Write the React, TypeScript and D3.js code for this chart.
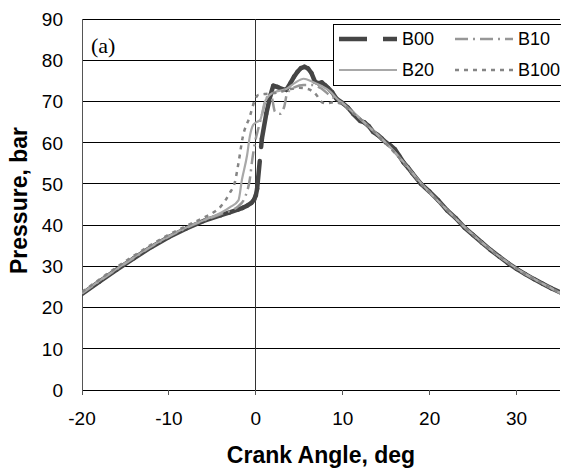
import React from "react";
import * as d3 from "d3";

// ---- data ----
const xTicks = [-20, -10, 0, 10, 20, 30];
const yTicks = [0, 10, 20, 30, 40, 50, 60, 70, 80, 90];

const b00Angle = [-20, -18, -16, -14, -12, -10, -8, -6, -4, -3, -2, -1.5, -1, -0.5, -0.2, 0, 0.15, 0.7, 1.2, 1.7, 2.0, 2.5, 3.0, 3.5, 4.0, 4.4, 4.8, 5.2, 5.6, 6.0, 6.4, 6.8, 7.2, 7.6, 8.0, 8.3, 8.8, 9.3, 10, 10.6, 11.2, 12, 12.5, 13, 13.5, 14, 14.5, 15, 15.5, 16, 16.5, 17, 17.5, 18, 19, 20, 21, 22, 23, 24, 25, 26, 27, 28, 29, 30, 31, 32, 33, 34, 35];
const b00Pressure = [23.3, 26.3, 29.2, 32.0, 34.7, 37.1, 39.2, 41.0, 42.4, 43.1, 43.8, 44.2, 44.7, 45.4, 46.2, 47.2, 48.8, 61.0, 67.0, 71.6, 73.8, 73.5, 73.0, 72.8, 74.5, 76.0, 77.2, 78.1, 78.4, 78.0, 76.9, 74.8, 74.4, 74.6, 73.9, 73.3, 72.2, 70.6, 69.6, 68.5, 67.0, 65.3, 64.9, 64.0, 62.6, 61.9, 61.0, 60.0, 59.3, 58.4, 56.8, 55.2, 54.0, 52.6, 50.0, 48.1, 46.0, 43.6, 41.7, 39.4, 37.6, 35.8, 34.0, 32.4, 30.8, 29.4, 28.1, 26.9, 25.8, 24.7, 23.7];

const b10Angle = [-20, -18, -16, -14, -12, -10, -8, -6, -4, -2, -1.2, -0.7, -0.4, -0.1, 0.3, 0.8, 1.3, 1.8, 2.2, 2.8, 3.3, 3.6, 4.5, 5.5, 6.5, 7.5, 8.5, 9.5, 10, 11, 12, 13, 14, 15, 16, 17, 18, 19, 20, 21, 22, 23, 24, 25, 26, 27, 28, 29, 30, 31, 32, 33, 34, 35];
const b10Pressure = [23.4, 26.4, 29.3, 32.1, 34.8, 37.2, 39.3, 41.1, 42.7, 44.6, 47.0, 51.0, 56.0, 60.0, 63.5, 67.5, 71.0, 71.0, 67.5, 67.0, 69.0, 72.0, 73.5, 74.0, 74.0, 73.2, 71.5, 70.2, 69.5, 67.6, 65.8, 63.8, 61.9, 59.8, 57.6, 55.2, 52.6, 50.1, 47.9, 45.8, 43.7, 41.6, 39.5, 37.6, 35.8, 34.0, 32.4, 30.9, 29.4, 28.1, 26.9, 25.8, 24.7, 23.6];

const b20Angle = [-20, -18, -16, -14, -12, -10, -8, -6, -4, -3, -2, -1.6, -1.0, -0.7, -0.3, 0.1, 0.5, 1.0, 1.6, 2.5, 3.5, 4.5, 5.5, 6.5, 7.5, 8.5, 9.5, 10, 11, 12, 13, 14, 15, 16, 17, 18, 19, 20, 21, 22, 23, 24, 25, 26, 27, 28, 29, 30, 31, 32, 33, 34, 35];
const b20Pressure = [23.5, 26.5, 29.4, 32.2, 34.9, 37.3, 39.4, 41.2, 43.0, 44.3, 46.0, 51.0, 57.0, 61.4, 64.3, 65.0, 65.5, 69.7, 71.6, 72.5, 73.0, 74.5, 75.5, 74.8, 73.8, 72.5, 70.3, 69.6, 67.7, 65.9, 63.9, 62.0, 59.9, 57.7, 55.3, 52.8, 50.2, 48.0, 45.8, 43.7, 41.6, 39.6, 37.7, 35.8, 34.1, 32.4, 30.9, 29.5, 28.2, 27.0, 25.8, 24.7, 23.5];

const b100Angle = [-20, -18, -16, -14, -12, -10, -8, -6, -5, -4, -3, -2.4, -2.0, -1.5, -0.7, -0.1, 0.3, 1.0, 2, 3, 4, 5, 6, 7, 7.5, 8.1, 9, 10, 11, 12, 13, 14, 15, 16, 17, 18, 19, 20, 21, 22, 23, 24, 25, 26, 27, 28, 29, 30, 31, 32, 33, 34, 35];
const b100Pressure = [23.8, 26.8, 29.8, 32.6, 35.3, 37.7, 39.8, 41.8, 42.9, 44.6, 47.8, 50.5, 55.0, 61.4, 66.3, 70.4, 71.6, 71.8, 72.0, 72.4, 73.0, 73.3, 73.0, 71.5, 70.0, 69.5, 69.8, 69.3, 67.5, 65.8, 63.8, 61.8, 59.7, 57.5, 55.1, 52.6, 50.0, 47.9, 45.8, 43.7, 41.6, 39.6, 37.6, 35.8, 34.0, 32.4, 30.9, 29.4, 28.1, 26.9, 25.8, 24.7, 23.6];

const seriesNames = ["B00", "B10", "B20", "B100"];

// ---- styles ----
const styles: Record<string, { color: string; width: number; dash: string }> = {
  B00: { color: "#454545", width: 4.5, dash: "28 14" },
  B10: { color: "#979797", width: 2.5, dash: "13 5 2 5" },
  B20: { color: "#a8a8a8", width: 2.2, dash: "" },
  B100: { color: "#858585", width: 2.5, dash: "4 5" },
};

const W = 561;
const H = 471;
const M = { left: 82, right: 560, top: 19, bottom: 390 };

export default function App() {
  const x = d3.scaleLinear().domain([-20, 35]).range([M.left, M.right]);
  const y = d3.scaleLinear().domain([0, 90]).range([M.bottom, M.top]);

  const seriesData: Record<string, { a: number[]; p: number[] }> = {
    B00: { a: b00Angle, p: b00Pressure },
    B10: { a: b10Angle, p: b10Pressure },
    B20: { a: b20Angle, p: b20Pressure },
    B100: { a: b100Angle, p: b100Pressure },
  };

  const line = d3
    .line<[number, number]>()
    .x((d) => x(d[0]))
    .y((d) => y(d[1]))
    .curve(d3.curveMonotoneX);

  const segLine = d3
    .line<[number, number]>()
    .x((d) => x(d[0]))
    .y((d) => y(d[1]));

  const drawOrder = ["B00", "B10", "B20", "B100"];

  return (
    <svg
      width={W}
      height={H}
      style={{ position: "absolute", left: 0, top: 0, background: "#fff" }}
      fontFamily="Arial, 'Liberation Sans', sans-serif"
    >
      <defs>
        <clipPath id="plotClip">
          <rect x={M.left} y={M.top - 2} width={M.right - M.left} height={M.bottom - M.top + 2} />
        </clipPath>
      </defs>
      <rect x={0} y={0} width={W} height={H} fill="#fff" />

      {/* horizontal gridlines */}
      {yTicks.map((t) => (
        <line key={"g" + t} x1={M.left} x2={M.right} y1={y(t)} y2={y(t)} stroke="#000" strokeWidth={1} shapeRendering="crispEdges" />
      ))}
      {/* left axis & zero vertical */}
      <line x1={M.left} x2={M.left} y1={M.top} y2={M.bottom} stroke="#555" strokeWidth={1} shapeRendering="crispEdges" />
      <line x1={x(0)} x2={x(0)} y1={M.top} y2={M.bottom} stroke="#333" strokeWidth={1} shapeRendering="crispEdges" />
      {/* x axis ticks */}
      {xTicks.map((t) => (
        <line key={"xt" + t} x1={x(t)} x2={x(t)} y1={M.bottom} y2={M.bottom + 5} stroke="#555" strokeWidth={1} shapeRendering="crispEdges" />
      ))}

      {/* y tick labels */}
      {yTicks.map((t) => (
        <text key={"yl" + t} x={63} y={y(t)} dy="0.36em" textAnchor="end" fontSize={19} fill="#000">
          {t}
        </text>
      ))}
      {/* x tick labels */}
      {xTicks.map((t) => (
        <text key={"xl" + t} x={x(t)} y={425} textAnchor="middle" fontSize={19} fill="#000">
          {t}
        </text>
      ))}

      {/* axis titles */}
      <text x={(M.left + M.right) / 2} y={463} textAnchor="middle" fontSize={23} fontWeight="bold" fill="#000">
        Crank Angle, deg
      </text>
      <text
        transform={`translate(27, ${(M.top + M.bottom) / 2 - 4}) rotate(-90)`}
        textAnchor="middle"
        fontSize={23}
        fontWeight="bold"
        fill="#000"
      >
        Pressure, bar
      </text>

      {/* series */}
      <g clipPath="url(#plotClip)">
        {drawOrder.map((name) => {
          const s = seriesData[name];
          const pts: [number, number][] = s.a.map((a, i) => [a, s.p[i]]);
          const st = styles[name];
          if (name === "B00") {
            // dash pattern restarts on every segment (spreadsheet style)
            return (
              <g key={name}>
                {pts.slice(1).map((p, i) => (
                  <path
                    key={i}
                    d={segLine([pts[i], p]) || ""}
                    fill="none"
                    stroke={st.color}
                    strokeWidth={st.width}
                    strokeDasharray={st.dash}
                    strokeLinecap="round"
                  />
                ))}
              </g>
            );
          }
          return (
            <path
              key={name}
              d={line(pts) || ""}
              fill="none"
              stroke={st.color}
              strokeWidth={st.width}
              strokeDasharray={st.dash || undefined}
              strokeLinejoin="round"
            />
          );
        })}
      </g>

      {/* (a) label */}
      <text x={91} y={53} fontFamily="'Liberation Serif', 'Times New Roman', serif" fontSize={22} fill="#000">
        (a)
      </text>

      {/* legend */}
      <g>
        <rect x={333.5} y={24.5} width={240} height={61} fill="#fff" stroke="#000" strokeWidth={1} />
        {seriesNames.map((name, i) => {
          const col = i % 2;
          const row = Math.floor(i / 2);
          const lx = col === 0 ? 339 : 455;
          const ly = row === 0 ? 39 : 70;
          const st = styles[name];
          return (
            <g key={"lg" + name}>
              <line
                x1={lx}
                x2={lx + 58}
                y1={ly}
                y2={ly}
                stroke={st.color}
                strokeWidth={st.width}
                strokeDasharray={name === "B00" ? "28 16" : st.dash || undefined}
              />
              <text x={lx + 63} y={ly} dy="0.36em" fontSize={18} fill="#000">
                {name}
              </text>
            </g>
          );
        })}
      </g>
    </svg>
  );
}
